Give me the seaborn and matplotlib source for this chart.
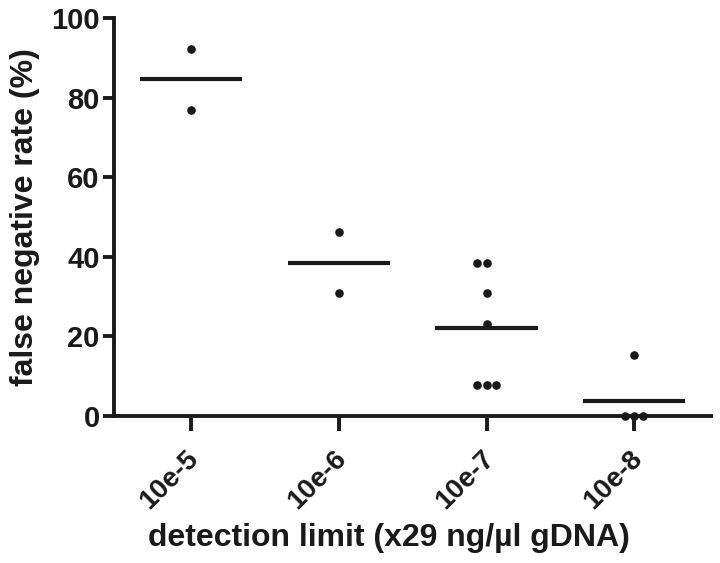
import pandas as pd
import seaborn as sns
import matplotlib.pyplot as plt
from matplotlib.transforms import ScaledTranslation

# detection limit groups and observed false negative rates (%)
limits = ["10e-5", "10e-6", "10e-7", "10e-8"]
rates_1e5 = [92.3, 76.9]
rates_1e6 = [46.2, 30.8]
rates_1e7 = [38.5, 38.5, 30.8, 23.1, 7.7, 7.7, 7.7]
rates_1e8 = [15.4, 0.0, 0.0, 0.0]

df = pd.DataFrame({
    "limit": ([limits[0]] * len(rates_1e5) + [limits[1]] * len(rates_1e6)
              + [limits[2]] * len(rates_1e7) + [limits[3]] * len(rates_1e8)),
    "rate": rates_1e5 + rates_1e6 + rates_1e7 + rates_1e8,
})

ink = "#1a1a1a"
sns.set_style("ticks")
plt.rcParams["font.family"] = ["Liberation Sans", "DejaVu Sans"]
plt.rcParams["font.weight"] = "bold"
plt.rcParams["text.color"] = ink
plt.rcParams["axes.labelcolor"] = ink
plt.rcParams["xtick.labelcolor"] = ink
plt.rcParams["ytick.labelcolor"] = ink

fig = plt.figure(figsize=(7.2, 5.63), dpi=100)
ax = fig.add_axes([0.158, 0.261, 0.83, 0.707])

sns.swarmplot(data=df, x="limit", y="rate", order=limits, color=ink,
              size=6.2, ax=ax, clip_on=False, zorder=3)

# mean lines
means = df.groupby("limit")["rate"].mean().reindex(limits)
for i, m in enumerate(means):
    ax.hlines(m, i - 0.345, i + 0.345, color=ink, linewidth=3, zorder=2)

ax.set_xlim(-0.52, 3.52)
ax.set_ylim(0, 100)
ax.set_yticks([0, 20, 40, 60, 80, 100])
sns.despine(ax=ax)
for side in ["left", "bottom"]:
    ax.spines[side].set_linewidth(2.8)
    ax.spines[side].set_color(ink)
ax.tick_params(axis="y", length=8, width=2.8, labelsize=21, pad=2, color=ink)
ax.tick_params(axis="x", length=11, width=2.8, labelsize=20, pad=10, color=ink)
nudge = ScaledTranslation(-5 / 100, 0, fig.dpi_scale_trans)
for lab in ax.get_xticklabels():
    lab.set_rotation(45)
    lab.set_ha("right")
    lab.set_rotation_mode("anchor")
    lab.set_fontweight("bold")
    lab.set_transform(lab.get_transform() + nudge)
plt.setp(ax.get_yticklabels(), fontweight="bold")

ax.set_xlabel("detection limit (x29 ng/µl gDNA)", fontsize=23, fontweight="bold")
ax.xaxis.set_label_coords(0.46, -0.268)
ax.set_ylabel("false negative rate (%)", fontsize=23, fontweight="bold", labelpad=8)

fig.savefig("out.png", dpi=100)
